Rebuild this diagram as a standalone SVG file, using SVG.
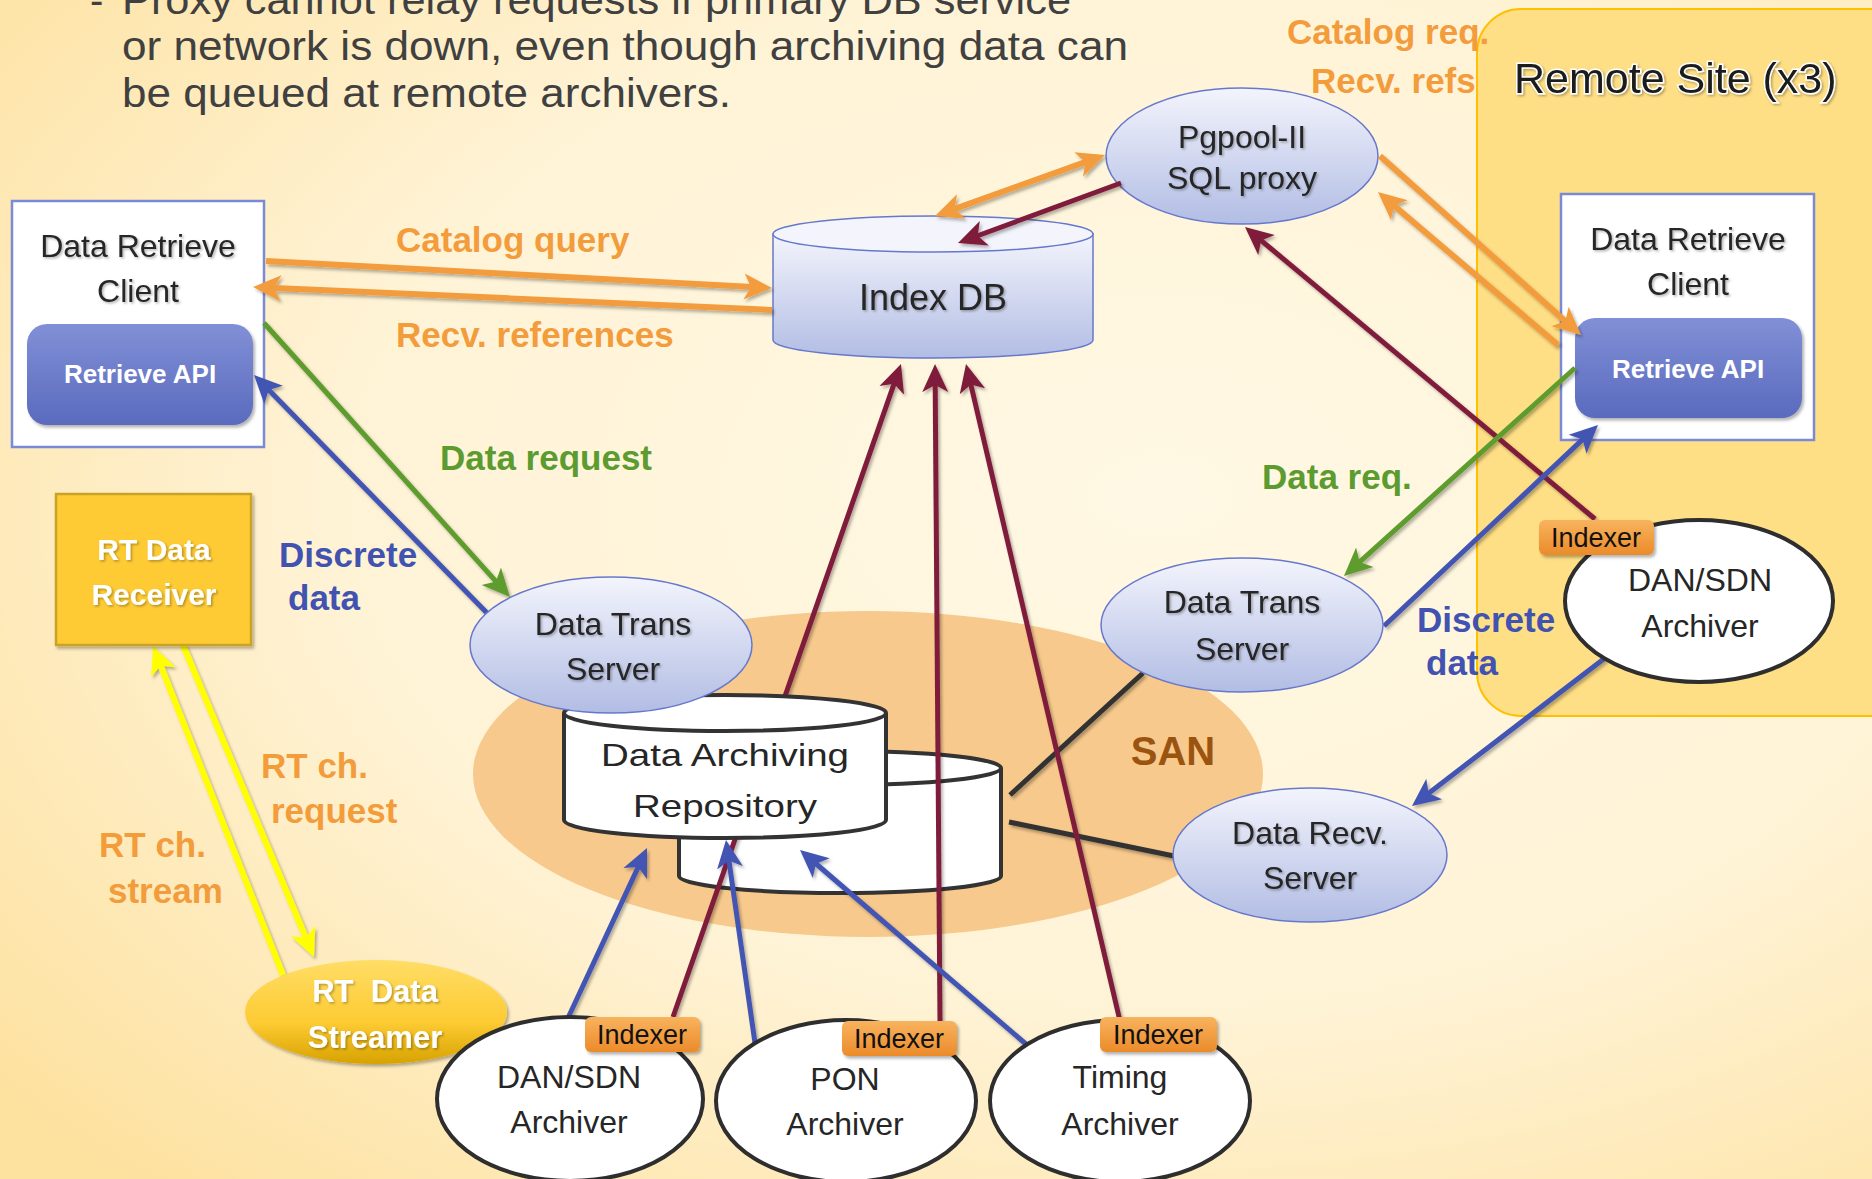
<svg xmlns="http://www.w3.org/2000/svg" width="1872" height="1179" viewBox="0 0 1872 1179">
<defs>
<radialGradient id="bg" cx="0.62" cy="0.42" r="0.8">
<stop offset="0" stop-color="#FFF8E4"/>
<stop offset="0.55" stop-color="#FFF3D6"/>
<stop offset="1" stop-color="#FDE19F"/>
</radialGradient>
<linearGradient id="gBlue" x1="0" y1="0" x2="0" y2="1">
<stop offset="0" stop-color="#F3F4FC"/>
<stop offset="1" stop-color="#B2BDE4"/>
</linearGradient>
<linearGradient id="gApi" x1="0" y1="0" x2="0" y2="1">
<stop offset="0" stop-color="#8190D6"/>
<stop offset="1" stop-color="#5A6ABE"/>
</linearGradient>
<linearGradient id="gGold" x1="0" y1="0" x2="0" y2="1">
<stop offset="0" stop-color="#FFDD66"/>
<stop offset="0.6" stop-color="#FDCB33"/>
<stop offset="1" stop-color="#D7A200"/>
</linearGradient>
<linearGradient id="gTag" x1="0" y1="0" x2="0" y2="1">
<stop offset="0" stop-color="#F8B35E"/>
<stop offset="1" stop-color="#EB8B2A"/>
</linearGradient>
<filter id="sh" x="-20%" y="-20%" width="140%" height="140%">
<feDropShadow dx="2" dy="2.5" stdDeviation="1.8" flood-color="#000" flood-opacity="0.3"/>
</filter>
<filter id="ts" x="-10%" y="-20%" width="130%" height="150%">
<feDropShadow dx="1.5" dy="1.5" stdDeviation="1" flood-color="#000" flood-opacity="0.3"/>
</filter>
<marker id="mOr" viewBox="0 -16 30 32" markerWidth="30" markerHeight="32" refX="18" refY="0" orient="auto-start-reverse" markerUnits="userSpaceOnUse"><path d="M0,-13 L28,0 L0,13 L7,0 Z" fill="#F39C3C"/></marker>
<marker id="mRd" viewBox="0 -16 30 32" markerWidth="30" markerHeight="32" refX="18" refY="0" orient="auto-start-reverse" markerUnits="userSpaceOnUse"><path d="M0,-13 L28,0 L0,13 L7,0 Z" fill="#7F1D3B"/></marker>
<marker id="mBl" viewBox="0 -16 30 32" markerWidth="30" markerHeight="32" refX="18" refY="0" orient="auto-start-reverse" markerUnits="userSpaceOnUse"><path d="M0,-13 L28,0 L0,13 L7,0 Z" fill="#4354B3"/></marker>
<marker id="mGr" viewBox="0 -16 30 32" markerWidth="30" markerHeight="32" refX="18" refY="0" orient="auto-start-reverse" markerUnits="userSpaceOnUse"><path d="M0,-13 L28,0 L0,13 L7,0 Z" fill="#5E9C2E"/></marker>
<marker id="mYe" viewBox="0 -16 30 32" markerWidth="30" markerHeight="32" refX="18" refY="0" orient="auto-start-reverse" markerUnits="userSpaceOnUse"><path d="M0,-13 L28,0 L0,13 L7,0 Z" fill="#FFFF00"/></marker>
<style>
text { font-family: "Liberation Sans", Arial, sans-serif; }
.note { font-size: 40px; fill: #404040; }
.lbl { font-size: 32px; fill: #262626; text-anchor: middle; }
.big { font-size: 36px; fill: #262626; text-anchor: middle; }
.wb { font-weight: bold; fill: #FFFFFF; text-anchor: middle; }
.tagt { font-size: 27px; fill: #111; text-anchor: middle; }
.cl { font-size: 35px; font-weight: bold; }
.or { fill: #F39C3C; }
.gr { fill: #5B9B2F; }
.bl { fill: #4152B1; }
.bell { fill: url(#gBlue); stroke: #6678CC; stroke-width: 1.5; }
.arch { fill: #FFFFFF; stroke: #2E2E2E; stroke-width: 4; }
.tag { fill: url(#gTag); }
.cyl { fill: #FFFFFF; stroke: #333333; stroke-width: 4; }
.box { fill: #FFFFFF; stroke: #7A8AD6; stroke-width: 2.5; }
.api { fill: url(#gApi); }
.c-or { stroke: #F39C3C; stroke-width: 6; fill: none; }
.c-rd { stroke: #7F1D3B; stroke-width: 5; fill: none; }
.c-bl { stroke: #4354B3; stroke-width: 5; fill: none; }
.c-gr { stroke: #5E9C2E; stroke-width: 5; fill: none; }
.c-ye { stroke: #FFFF00; stroke-width: 6; fill: none; }
.c-bk { stroke: #333333; stroke-width: 5; fill: none; }
</style>
</defs>

<rect x="0" y="0" width="1872" height="1179" fill="url(#bg)"/>

<g id="note-text">
<text class="note" x="90" y="14">-</text>
<text class="note" x="122" y="14" textLength="949" lengthAdjust="spacingAndGlyphs">Proxy cannot relay requests if primary DB service</text>
<text class="note" x="122" y="60" textLength="1006" lengthAdjust="spacingAndGlyphs">or network is down, even though archiving data can</text>
<text class="note" x="122" y="107" textLength="609" lengthAdjust="spacingAndGlyphs">be queued at remote archivers.</text>
</g>

<g id="remote-site">
<rect x="1477" y="9" width="440" height="707" rx="44" fill="#FFDF85" stroke="#FFC000" stroke-width="2"/>
<text x="1514" y="93" font-size="43" fill="#1C1C1C" stroke="#FFFFFF" stroke-width="3" paint-order="stroke" filter="url(#ts)">Remote Site (x3)</text>
</g>

<g id="san">
<ellipse cx="868" cy="774" rx="395" ry="163" fill="#F7C98C"/>
<text x="1173" y="765" font-size="40" font-weight="bold" fill="#9A5410" text-anchor="middle">SAN</text>
</g>

<g id="repo-back">
<path class="cyl" d="M679,768 L679,876 A161,17 0 0 0 1001,876 L1001,768"/>
<ellipse class="cyl" cx="840" cy="768" rx="161" ry="17"/>
</g>

<g id="index-db">
<path d="M773,234 L773,340 A160,18 0 0 0 1093,340 L1093,234 Z" fill="url(#gBlue)" stroke="#6678CC" stroke-width="1.5"/>
<ellipse cx="933" cy="234" rx="160" ry="18" fill="#F4F5FC" stroke="#6678CC" stroke-width="1.5"/>
<text class="big" x="933" y="310" filter="url(#ts)">Index DB</text>
</g>

<g id="pgpool">
<ellipse class="bell" cx="1242" cy="156" rx="136" ry="68"/>
<text class="lbl" x="1242" y="148" filter="url(#ts)">Pgpool-II</text>
<text class="lbl" x="1242" y="189" filter="url(#ts)">SQL proxy</text>
</g>

<g id="client-left">
<rect class="box" x="12" y="201" width="252" height="246"/>
<text class="lbl" x="138" y="257" filter="url(#ts)">Data Retrieve</text>
<text class="lbl" x="138" y="302" filter="url(#ts)">Client</text>
<rect class="api" x="27" y="324" width="226" height="101" rx="20" filter="url(#sh)"/>
<text class="wb" x="140" y="383" font-size="26">Retrieve API</text>
</g>

<g id="client-right">
<rect class="box" x="1561" y="194" width="253" height="246"/>
<text class="lbl" x="1688" y="250" filter="url(#ts)">Data Retrieve</text>
<text class="lbl" x="1688" y="295" filter="url(#ts)">Client</text>
<rect class="api" x="1575" y="318" width="227" height="100" rx="20" filter="url(#sh)"/>
<text class="wb" x="1688" y="378" font-size="26">Retrieve API</text>
</g>

<g id="connectors" filter="url(#sh)">
<line class="c-bk" x1="1010" y1="795" x2="1143" y2="673"/>
<line class="c-bk" x1="1009" y1="822" x2="1174" y2="856"/>
<line class="c-or" x1="266" y1="261" x2="762" y2="287.5" marker-end="url(#mOr)"/>
<line class="c-or" x1="772" y1="310" x2="263" y2="287.4" marker-end="url(#mOr)"/>
<line class="c-or" x1="944.4" y1="212.6" x2="1095.6" y2="158.4" marker-start="url(#mOr)" marker-end="url(#mOr)"/>
<line class="c-rd" x1="1121" y1="183" x2="967.4" y2="239.5" marker-end="url(#mRd)"/>
<line class="c-or" x1="1380" y1="156" x2="1573.5" y2="328.4" marker-end="url(#mOr)"/>
<line class="c-or" x1="1558" y1="345" x2="1385.6" y2="198.5" marker-end="url(#mOr)"/>
<line class="c-rd" x1="1595" y1="519" x2="1252.7" y2="233.4" marker-end="url(#mRd)"/>
<line class="c-gr" x1="264" y1="323" x2="503.3" y2="589.6" marker-end="url(#mGr)"/>
<line class="c-bl" x1="487" y1="613" x2="261" y2="382.1" marker-end="url(#mBl)"/>
<line class="c-gr" x1="1575" y1="368" x2="1351.4" y2="569.3" marker-end="url(#mGr)"/>
<line class="c-bl" x1="1384" y1="626" x2="1590.7" y2="431.9" marker-end="url(#mBl)"/>
<line class="c-bl" x1="1605" y1="658" x2="1419.9" y2="799.9" marker-end="url(#mBl)"/>
<line class="c-rd" x1="673" y1="1017" x2="897.7" y2="373.4" marker-end="url(#mRd)"/>
<line class="c-rd" x1="940" y1="1021" x2="935.1" y2="374" marker-end="url(#mRd)"/>
<line class="c-rd" x1="1120" y1="1021" x2="968.3" y2="373.7" marker-end="url(#mRd)"/>
<line class="c-bl" x1="568" y1="1018" x2="642.8" y2="857.1" marker-end="url(#mBl)"/>
<line class="c-bl" x1="755" y1="1043" x2="727.4" y2="849.9" marker-end="url(#mBl)"/>
<line class="c-bl" x1="1027" y1="1045" x2="807.6" y2="856.5" marker-end="url(#mBl)"/>
<line class="c-ye" x1="183" y1="645" x2="310.1" y2="947.8" marker-end="url(#mYe)"/>
<line class="c-ye" x1="283" y1="975" x2="156.7" y2="655.3" marker-end="url(#mYe)"/>
</g>

<g id="labels">
<text class="cl or" x="396" y="252">Catalog query</text>
<text class="cl or" x="396" y="347">Recv. references</text>
<text class="cl gr" x="440" y="470">Data request</text>
<text class="cl bl" x="279" y="567">Discrete</text>
<text class="cl bl" x="288" y="610">data</text>
<text class="cl gr" x="1262" y="489">Data req.</text>
<text class="cl bl" x="1417" y="632">Discrete</text>
<text class="cl bl" x="1426" y="675">data</text>
<text class="cl or" x="261" y="778">RT ch.</text>
<text class="cl or" x="271" y="823">request</text>
<text class="cl or" x="99" y="857">RT ch.</text>
<text class="cl or" x="108" y="903">stream</text>
<text class="cl or" x="1287" y="44">Catalog req.</text>
<text class="cl or" x="1311" y="93">Recv. refs</text>
</g>

<g id="repo-front">
<path class="cyl" d="M564,713 L564,820 A161,18 0 0 0 886,820 L886,713"/>
<ellipse class="cyl" cx="725" cy="713" rx="161" ry="18"/>
<text class="lbl" x="725" y="766" font-size="42" textLength="248" lengthAdjust="spacingAndGlyphs">Data Archiving</text>
<text class="lbl" x="725" y="817" font-size="42" textLength="184" lengthAdjust="spacingAndGlyphs">Repository</text>
</g>

<g id="rt-receiver">
<rect x="56" y="494" width="195" height="151" fill="#FECB35" stroke="#C9A227" stroke-width="2.5" filter="url(#sh)"/>
<text class="wb" x="154" y="560" font-size="30" filter="url(#ts)">RT Data</text>
<text class="wb" x="154" y="605" font-size="30" filter="url(#ts)">Receiver</text>
</g>

<g id="data-trans-left">
<ellipse class="bell" cx="611" cy="645" rx="141" ry="68"/>
<text class="lbl" x="613" y="635" filter="url(#ts)">Data Trans</text>
<text class="lbl" x="613" y="680" filter="url(#ts)">Server</text>
</g>

<g id="data-trans-right">
<ellipse class="bell" cx="1242" cy="625" rx="141" ry="67"/>
<text class="lbl" x="1242" y="613" filter="url(#ts)">Data Trans</text>
<text class="lbl" x="1242" y="660" filter="url(#ts)">Server</text>
</g>

<g id="data-recv">
<ellipse class="bell" cx="1310" cy="855" rx="137" ry="67"/>
<text class="lbl" x="1310" y="844" filter="url(#ts)">Data Recv.</text>
<text class="lbl" x="1310" y="889" filter="url(#ts)">Server</text>
</g>

<g id="remote-archiver">
<ellipse class="arch" cx="1699" cy="601" rx="134" ry="81"/>
<text class="lbl" x="1700" y="591">DAN/SDN</text>
<text class="lbl" x="1700" y="637">Archiver</text>
<rect class="tag" x="1539" y="520" width="115" height="35" rx="6" filter="url(#sh)"/>
<text class="tagt" x="1596" y="547">Indexer</text>
</g>

<g id="rt-streamer">
<ellipse cx="376" cy="1012" rx="131" ry="52" fill="url(#gGold)" filter="url(#sh)"/>
<text class="wb" x="375" y="1002" font-size="31" xml:space="preserve" filter="url(#ts)">RT  Data</text>
<text class="wb" x="375" y="1048" font-size="31" filter="url(#ts)">Streamer</text>
</g>

<g id="dan-archiver">
<ellipse class="arch" cx="570" cy="1099" rx="133" ry="82"/>
<text class="lbl" x="569" y="1088">DAN/SDN</text>
<text class="lbl" x="569" y="1133">Archiver</text>
<rect class="tag" x="585" y="1017" width="115" height="35" rx="6" filter="url(#sh)"/>
<text class="tagt" x="642" y="1044">Indexer</text>
</g>

<g id="pon-archiver">
<ellipse class="arch" cx="846" cy="1101" rx="130" ry="81"/>
<text class="lbl" x="845" y="1090">PON</text>
<text class="lbl" x="845" y="1135">Archiver</text>
<rect class="tag" x="842" y="1021" width="115" height="35" rx="6" filter="url(#sh)"/>
<text class="tagt" x="899" y="1048">Indexer</text>
</g>

<g id="timing-archiver">
<ellipse class="arch" cx="1120" cy="1101" rx="130" ry="81"/>
<text class="lbl" x="1120" y="1088">Timing</text>
<text class="lbl" x="1120" y="1135">Archiver</text>
<rect class="tag" x="1100" y="1017" width="117" height="35" rx="6" filter="url(#sh)"/>
<text class="tagt" x="1158" y="1044">Indexer</text>
</g>
</svg>
